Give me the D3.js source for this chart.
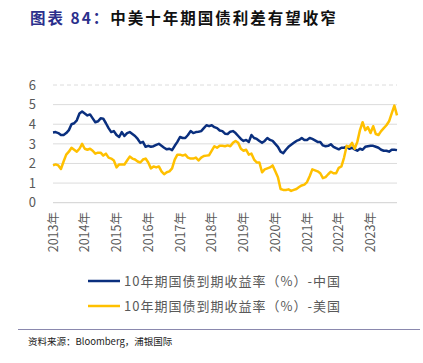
<!DOCTYPE html>
<html>
<head>
<meta charset="utf-8">
<script src="https://cdn.jsdelivr.net/npm/d3@7"></script>
<style>
  body { margin: 0; background: #fff; }
  text { font-family: "Noto Sans CJK SC", "Noto Sans", sans-serif; }
</style>
</head>
<body>
<div id="chart"></div>
<script>
// monthly readings, Jan 2013 .. Nov 2023
var startYear = 2013;
var chinaYield = [
  3.58, 3.60, 3.55, 3.45, 3.45, 3.55, 3.70, 4.00, 4.05, 4.20, 4.55, 4.65,
  4.55, 4.45, 4.50, 4.30, 4.10, 4.15, 4.30, 4.28, 4.05, 3.80, 3.60, 3.65,
  3.45, 3.35, 3.60, 3.40, 3.55, 3.60, 3.50, 3.40, 3.25, 3.05, 3.10, 2.85,
  2.90, 2.85, 2.88, 2.95, 3.00, 2.90, 2.80, 2.72, 2.75, 2.68, 2.90, 3.10,
  3.35, 3.30, 3.30, 3.45, 3.65, 3.55, 3.60, 3.62, 3.65, 3.80, 3.95, 3.90,
  3.95, 3.85, 3.80, 3.68, 3.65, 3.52, 3.50, 3.62, 3.65, 3.55, 3.40, 3.25,
  3.15, 3.20, 3.10, 3.45, 3.30, 3.25, 3.15, 3.05, 3.15, 3.30, 3.20, 3.15,
  3.00, 2.85, 2.60, 2.52, 2.70, 2.85, 2.95, 3.05, 3.15, 3.20, 3.30, 3.20,
  3.20, 3.30, 3.25, 3.18, 3.10, 3.10, 2.92, 2.88, 2.90, 2.98, 2.85, 2.78,
  2.72, 2.80, 2.80, 2.85, 2.75, 2.80, 2.72, 2.65, 2.75, 2.70, 2.85, 2.88,
  2.90, 2.90, 2.85, 2.80, 2.70, 2.65, 2.65, 2.60, 2.70, 2.70, 2.68
];
var usYield = [
  1.90, 1.95, 1.90, 1.72, 2.10, 2.45, 2.60, 2.80, 2.70, 2.60, 2.75, 3.00,
  2.75, 2.70, 2.75, 2.65, 2.50, 2.55, 2.55, 2.40, 2.50, 2.30, 2.25, 2.15,
  1.80, 1.95, 1.95, 1.95, 2.15, 2.35, 2.25, 2.20, 2.10, 2.05, 2.20, 2.25,
  2.05, 1.75, 1.85, 1.80, 1.85, 1.60, 1.45, 1.55, 1.60, 1.75, 2.20, 2.45,
  2.45, 2.40, 2.45, 2.30, 2.25, 2.25, 2.30, 2.15, 2.30, 2.38, 2.40, 2.42,
  2.65, 2.88, 2.80, 2.90, 2.90, 2.88, 2.92, 2.88, 3.05, 3.15, 3.05, 2.75,
  2.65, 2.70, 2.45, 2.50, 2.20, 2.05, 2.05, 1.55, 1.70, 1.75, 1.80, 1.90,
  1.60, 1.30, 0.70, 0.65, 0.65, 0.68, 0.60, 0.65, 0.70, 0.80, 0.88, 0.92,
  1.05, 1.35, 1.70, 1.65, 1.60, 1.50, 1.25, 1.30, 1.45, 1.58, 1.50, 1.50,
  1.78, 1.85, 2.30, 2.90, 2.85, 3.05, 2.75, 3.10, 3.70, 4.10, 3.70, 3.85,
  3.55, 3.90, 3.50, 3.45, 3.65, 3.80, 3.95, 4.15, 4.55, 4.95, 4.45
];
var yTicks = [0, 1, 2, 3, 4, 5, 6];
var xYears = [2013, 2014, 2015, 2016, 2017, 2018, 2019, 2020, 2021, 2022, 2023];
var seriesNames = ["10年期国债到期收益率（%）-中国", "10年期国债到期收益率（%）-美国"];
var seriesColors = ["#0A2F7E", "#FFC000"];

var width = 423, height = 363;

var svg = d3.select("#chart").append("svg")
  .attr("width", width)
  .attr("height", height);

// title
var title = svg.append("text")
  .attr("x", 30)
  .attr("y", 24)
  .attr("font-size", "15.5px")
  .attr("font-weight", "bold")
  .attr("letter-spacing", "2px");
title.append("tspan").attr("fill", "#2B2F8C").text("图表 84：");
title.append("tspan").attr("fill", "#111").text("中美十年期国债利差有望收窄");

var x = d3.scaleLinear()
  .domain([startYear, startYear + (chinaYield.length - 1) / 12])
  .range([53, 397]);

var y = d3.scaleLinear()
  .domain([0, 6])
  .range([202.7, 85]);

// grid
svg.append("g").selectAll("line")
  .data(yTicks)
  .join("line")
  .attr("x1", 53)
  .attr("x2", 397)
  .attr("y1", d => y(d))
  .attr("y2", d => y(d))
  .attr("stroke", d => d === 0 ? "#D0D0D0" : "#DCDCDC")
  .attr("stroke-width", 1)
  .attr("stroke-dasharray", d => d === 6 ? "4,3" : null);

// y labels
svg.append("g").selectAll("text")
  .data(yTicks)
  .join("text")
  .attr("x", 36)
  .attr("y", d => y(d))
  .attr("dy", "0.36em")
  .attr("text-anchor", "end")
  .attr("font-size", "13px")
  .attr("fill", "#595959")
  .text(d => d);

// x labels, rotated
svg.append("g").selectAll("text")
  .data(xYears)
  .join("text")
  .attr("transform", d => `translate(${x(d)},212) rotate(-90)`)
  .attr("dy", "0.36em")
  .attr("text-anchor", "end")
  .attr("font-size", "12.5px")
  .attr("fill", "#595959")
  .text(d => d + "年");

var line = d3.line()
  .x((d, i) => x(startYear + i / 12))
  .y(d => y(d));

[chinaYield, usYield].forEach(function (s, k) {
  svg.append("path")
    .datum(s)
    .attr("fill", "none")
    .attr("stroke", seriesColors[k])
    .attr("stroke-width", 2.5)
    .attr("stroke-linejoin", "round")
    .attr("d", line);
});

// legend
var legend = svg.append("g").selectAll("g")
  .data(seriesNames)
  .join("g")
  .attr("transform", (d, i) => `translate(88,${281 + i * 25})`);

legend.append("line")
  .attr("x1", 0)
  .attr("x2", 32)
  .attr("stroke", (d, i) => seriesColors[i])
  .attr("stroke-width", 2.5);

legend.append("text")
  .attr("x", 36)
  .attr("dy", "0.36em")
  .attr("font-size", "13px")
  .attr("letter-spacing", "1px")
  .attr("fill", "#595959")
  .text(d => d);

// footer
svg.append("line")
  .attr("x1", 18)
  .attr("x2", 420)
  .attr("y1", 329.5)
  .attr("y2", 329.5)
  .attr("stroke", "#8A88AE")
  .attr("stroke-width", 1);

svg.append("text")
  .attr("x", 28)
  .attr("y", 345)
  .attr("font-size", "9.5px")
  .attr("fill", "#222")
  .text("资料来源：Bloomberg，浦银国际");
</script>
</body>
</html>
